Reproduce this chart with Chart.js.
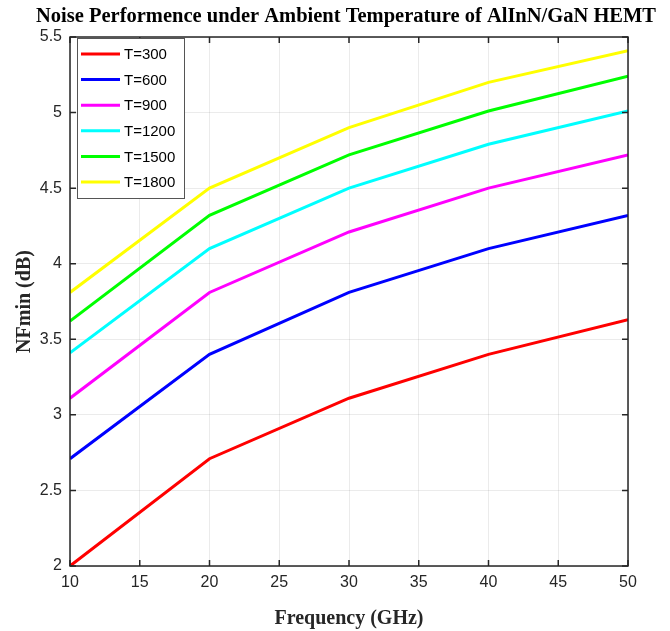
<!DOCTYPE html>
<html>
<head>
<meta charset="utf-8">
<script src="https://cdn.jsdelivr.net/npm/chart.js@4.4.1/dist/chart.umd.min.js"></script>
<style>
html,body{margin:0;padding:0;background:#fff}
canvas{display:block}
</style>
</head>
<body>
<canvas id="noise" width="670" height="631"></canvas>
<script>
/* NFmin vs frequency for several ambient temperatures */
const freqs = [10, 20, 30, 40, 50];
const t300 = [2.00, 2.71, 3.11, 3.40, 3.63];
const t600 = [2.71, 3.40, 3.81, 4.10, 4.32];
const t900 = [3.11, 3.81, 4.21, 4.50, 4.72];
const t1200 = [3.41, 4.10, 4.50, 4.79, 5.01];
const t1500 = [3.62, 4.32, 4.72, 5.01, 5.24];
const t1800 = [3.81, 4.50, 4.90, 5.20, 5.41];
const seriesLabels = ['T=300', 'T=600', 'T=900', 'T=1200', 'T=1500', 'T=1800'];
const seriesColors = ['#ff0000', '#0000ff', '#ff00ff', '#00ffff', '#00ff00', '#ffff00'];
const xTicks = [10, 15, 20, 25, 30, 35, 40, 45, 50];
const yTicks = [2, 2.5, 3, 3.5, 4, 4.5, 5, 5.5];
const chartTitle = 'Noise Performence under Ambient Temperature of AlInN/GaN HEMT';

const axisColor = '#262626';
const gridColor = 'rgba(0,0,0,0.08)';
const sans = "'Liberation Sans', Arial, sans-serif";
const serif = "'Liberation Serif', 'Times New Roman', serif";

const allSeries = [t300, t600, t900, t1200, t1500, t1800];

function makeDatasets(){
  return allSeries.map((vals, i) => ({
    label: seriesLabels[i],
    data: vals.map((v, j) => ({x: freqs[j], y: v})),
    borderColor: seriesColors[i],
    backgroundColor: seriesColors[i],
    borderWidth: 3,
    pointRadius: 0,
    tension: 0
  }));
}

// matlab-ish box, inward ticks, title and an in-plot legend
const framePlugin = {
  id: 'frame',
  afterDraw(chart){
    const {ctx, chartArea: a, scales} = chart;
    ctx.save();
    ctx.strokeStyle = axisColor;
    ctx.lineWidth = 1.5;
    ctx.beginPath();
    xTicks.forEach(v => {
      const px = scales.x.getPixelForValue(v);
      ctx.moveTo(px, a.bottom); ctx.lineTo(px, a.bottom - 6);
      ctx.moveTo(px, a.top); ctx.lineTo(px, a.top + 6);
    });
    yTicks.forEach(v => {
      const py = scales.y.getPixelForValue(v);
      ctx.moveTo(a.left, py); ctx.lineTo(a.left + 6, py);
      ctx.moveTo(a.right, py); ctx.lineTo(a.right - 6, py);
    });
    ctx.stroke();
    ctx.strokeRect(a.left, a.top, a.right - a.left, a.bottom - a.top);

    // title
    ctx.fillStyle = '#000';
    ctx.font = 'bold 20.5px ' + serif;
    ctx.textAlign = 'center';
    ctx.textBaseline = 'middle';
    ctx.fillText(chartTitle, 346, 17);

    // legend
    const lx = a.left + 7, ly = a.top + 1, lw = 107, lh = 160;
    ctx.fillStyle = '#fff';
    ctx.fillRect(lx, ly, lw, lh);
    ctx.lineWidth = 1;
    ctx.strokeStyle = '#555';
    ctx.strokeRect(lx + 0.5, ly + 0.5, lw, lh);
    ctx.font = '15px ' + sans;
    ctx.textBaseline = 'middle';
    ctx.textAlign = 'left';
    chart.data.datasets.forEach((ds, i) => {
      const yy = ly + 16 + i * 25.6;
      ctx.strokeStyle = ds.borderColor;
      ctx.lineWidth = 3;
      ctx.beginPath();
      ctx.moveTo(lx + 4, yy); ctx.lineTo(lx + 43, yy);
      ctx.stroke();
      ctx.fillStyle = '#000';
      ctx.fillText(ds.label, lx + 47, yy + 1);
    });
    ctx.restore();
  }
};

document.addEventListener('DOMContentLoaded', () => {
  const el = document.getElementById('noise');
  new Chart(el.getContext('2d'), {
    type: 'line',
    data: {datasets: makeDatasets()},
    plugins: [framePlugin],
    options: {
      responsive: false,
      animation: false,
      layout: {padding: {left: 0, right: 42, top: 37, bottom: 0}},
      plugins: {
        legend: {display: false},
        tooltip: {enabled: false},
        title: {display: false}
      },
      scales: {
        x: {
          type: 'linear',
          min: 10, max: 50,
          afterFit(s){ s.height = 65; },
          afterBuildTicks(s){ s.ticks = xTicks.map(v => ({value: v})); },
          ticks: {color: '#262626', font: {family: sans, size: 16}, padding: 7, maxRotation: 0,
            callback: v => String(v)},
          grid: {color: gridColor, drawTicks: false, lineWidth: 1},
          border: {display: false},
          title: {
            display: true,
            text: 'Frequency (GHz)',
            color: '#262626',
            font: {family: serif, size: 20, weight: 'bold'},
            padding: {top: 0, bottom: 0}
          }
        },
        y: {
          type: 'linear',
          min: 2, max: 5.5,
          afterFit(s){ s.width = 70; },
          afterBuildTicks(s){ s.ticks = yTicks.map(v => ({value: v})); },
          ticks: {color: '#262626', font: {family: sans, size: 16}, padding: 8,
            callback: v => String(v)},
          grid: {color: gridColor, drawTicks: false, lineWidth: 1},
          border: {display: false},
          title: {
            display: true,
            text: 'NFmin (dB)',
            color: '#262626',
            font: {family: serif, size: 20, weight: 'bold'},
            padding: {top: 13, bottom: 0}
          }
        }
      }
    }
  });
});
</script>
</body>
</html>
